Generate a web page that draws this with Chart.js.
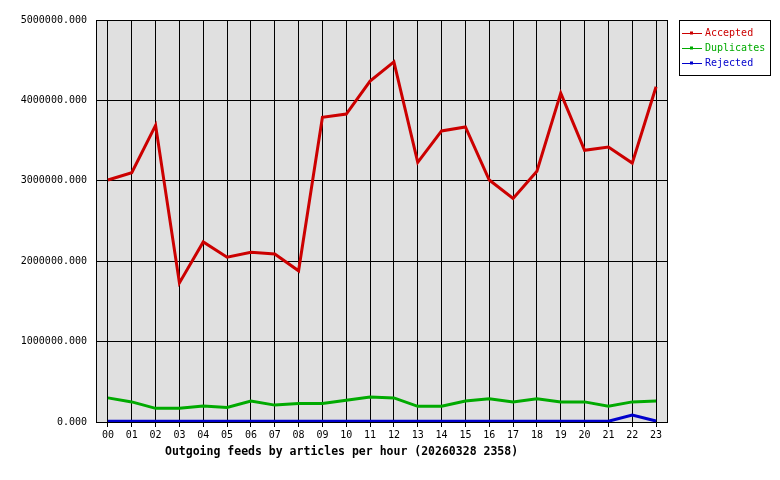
<!DOCTYPE html>
<html>
<head>
<meta charset="utf-8">
<script src="https://cdn.jsdelivr.net/npm/chart.js@4"></script>
<style>
  html, body { margin: 0; padding: 0; background: #fff; }
  #wrap { width: 780px; height: 480px; }
</style>
</head>
<body>
<div id="wrap"><canvas id="feedChart" width="780" height="480"></canvas></div>
<script>
// hours of the day
const hours = ['00', '01', '02', '03', '04', '05', '06', '07', '08', '09', '10', '11',
  '12', '13', '14', '15', '16', '17', '18', '19', '20', '21', '22', '23'];

// articles per hour
const accepted = [3010000, 3100000, 3690000, 1730000, 2240000, 2050000, 2110000, 2090000,
  1880000, 3790000, 3830000, 4240000, 4480000, 3230000, 3620000, 3670000,
  3010000, 2780000, 3120000, 4090000, 3380000, 3420000, 3220000, 4170000];
const duplicates = [300000, 250000, 170000, 170000, 200000, 180000, 260000, 210000,
  230000, 230000, 270000, 310000, 300000, 195000, 195000, 260000,
  290000, 250000, 290000, 250000, 250000, 195000, 250000, 260000];
const rejected = [10000, 10000, 10000, 10000, 10000, 10000, 10000, 10000,
  10000, 10000, 10000, 10000, 10000, 10000, 10000, 10000,
  10000, 10000, 10000, 10000, 10000, 10000, 85000, 12000];

const yTicks = [0, 1000000, 2000000, 3000000, 4000000, 5000000];
const chartTitle = 'Outgoing feeds by articles per hour (20260328 2358)';

const MONO = '"DejaVu Sans Mono", "Liberation Mono", monospace';

// grey plot background + black frame, title and boxed legend
const frame = {
  id: 'frame',
  beforeDraw(chart) {
    const { ctx, chartArea: a } = chart;
    ctx.save();
    ctx.fillStyle = '#e0e0e0';
    ctx.fillRect(a.left, a.top, a.right - a.left, a.bottom - a.top);
    ctx.restore();
  },
  afterDraw(chart) {
    const { ctx, chartArea: a } = chart;
    ctx.save();
    ctx.strokeStyle = '#000';
    ctx.lineWidth = 1;
    ctx.strokeRect(a.left + 0.5, a.top + 0.5, a.right - a.left - 1, a.bottom - a.top);

    // title under the axis
    ctx.fillStyle = '#000';
    ctx.font = 'bold 11.5px ' + MONO;
    ctx.textAlign = 'left';
    ctx.textBaseline = 'middle';
    ctx.fillText(chartTitle, a.left + 69, 452);

    // legend box
    const lx = a.right + 11, ly = a.top;
    ctx.fillStyle = '#fff';
    ctx.fillRect(lx, ly, 91, 55);
    ctx.strokeRect(lx + 0.5, ly + 0.5, 91, 55);
    ctx.font = '10px ' + MONO;
    chart.data.datasets.forEach((ds, i) => {
      const y = ly + 13.5 + i * 15;
      ctx.strokeStyle = ds.borderColor;
      ctx.beginPath();
      ctx.moveTo(lx + 3, y);
      ctx.lineTo(lx + 23, y);
      ctx.stroke();
      ctx.fillStyle = '#fff';
      ctx.fillRect(lx + 11, y - 2, 3, 3);
      ctx.strokeRect(lx + 11.5, y - 1.5, 2, 2);
      ctx.fillStyle = ds.borderColor;
      ctx.fillText(ds.label, lx + 26, y);
    });
    ctx.restore();
  },
};

const ctx = document.getElementById('feedChart').getContext('2d');
const feedChart = new Chart(ctx, {
  type: 'line',
  data: {
    labels: hours,
    datasets: [
      { label: 'Accepted', data: accepted, borderColor: '#cc0000' },
      { label: 'Duplicates', data: duplicates, borderColor: '#00aa00' },
      { label: 'Rejected', data: rejected, borderColor: '#0000cc' },
    ],
  },
  options: {
    responsive: false,
    animation: false,
    devicePixelRatio: 1,
    layout: { padding: { left: 0, top: 20, right: 112, bottom: 0 } },
    elements: {
      line: { borderWidth: 3, tension: 0, borderCapStyle: 'butt', borderJoinStyle: 'miter' },
      point: { radius: 0 },
    },
    datasets: { line: { clip: 4 } },
    plugins: {
      legend: { display: false },
      tooltip: { enabled: false },
    },
    scales: {
      x: {
        offset: true,
        afterFit(scale) { scale.height = 58; },
        border: { display: false },
        grid: { offset: false, color: '#000', lineWidth: 1, tickLength: 5, drawTicks: true },
        ticks: {
          color: '#000',
          font: { family: MONO, size: 10 },
          maxRotation: 0,
          autoSkip: false,
          padding: 2,
        },
      },
      y: {
        min: 0,
        max: 5000000,
        afterFit(scale) { scale.width = 96; },
        afterBuildTicks(scale) { scale.ticks = yTicks.map((v) => ({ value: v })); },
        border: { display: false },
        grid: { color: '#000', lineWidth: 1, drawTicks: false },
        ticks: {
          color: '#000',
          font: { family: MONO, size: 10 },
          padding: 9,
          callback: (v) => Number(v).toFixed(3),
        },
      },
    },
  },
  plugins: [frame],
});
</script>
</body>
</html>
